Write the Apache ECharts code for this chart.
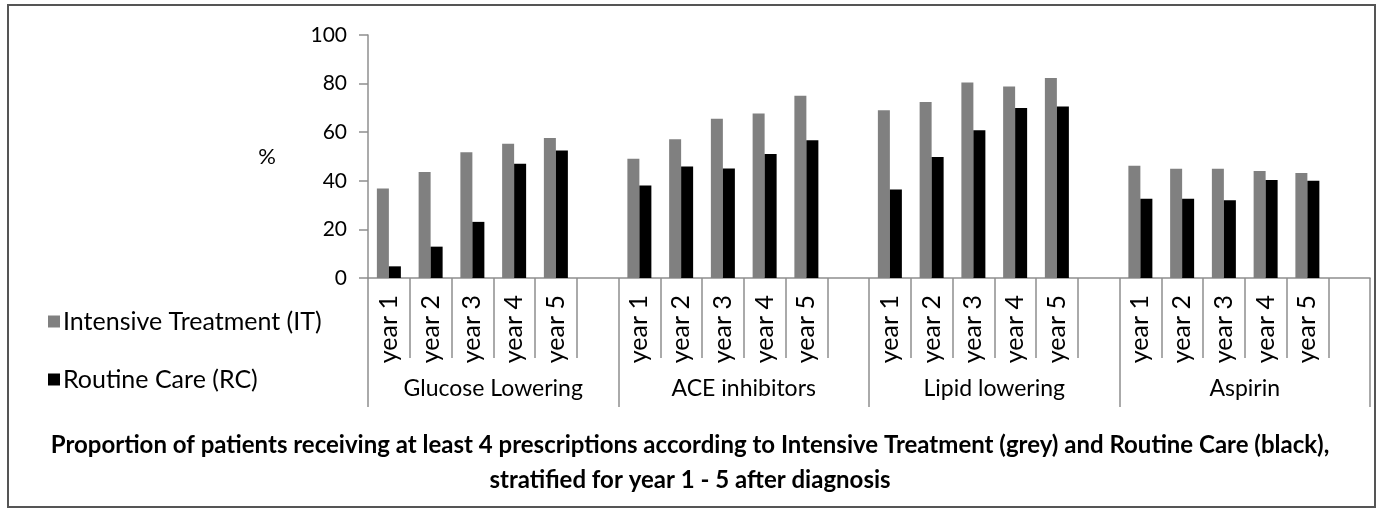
<!DOCTYPE html>
<html>
<head>
<meta charset="utf-8">
<script src="https://cdn.jsdelivr.net/npm/echarts@6/dist/echarts.min.js"></script>
<style>
html,body{margin:0;padding:0;background:#fff;}
#chart{width:1380px;height:509px;}
</style>
</head>
<body>
<div id="chart"></div>
<script>
const groups = ['Glucose Lowering', 'ACE inhibitors', 'Lipid lowering', 'Aspirin'];
const yearLabels = ['year 1', 'year 2', 'year 3', 'year 4', 'year 5', ''];
const itValues = [
  [36.8, 43.6, 51.7, 55.2, 57.6],
  [49.1, 57.1, 65.5, 67.7, 75.0],
  [69.0, 72.4, 80.5, 78.8, 82.3],
  [46.2, 45.0, 45.0, 44.0, 43.2]
];
const rcValues = [
  [4.8, 12.9, 23.1, 47.0, 52.5],
  [38.1, 45.9, 45.1, 51.0, 56.7],
  [36.4, 49.8, 60.8, 70.0, 70.6],
  [32.6, 32.6, 32.0, 40.3, 40.0]
];
const yTicks = {min: 0, max: 100, interval: 20};
const legendNames = ['Intensive Treatment (IT)', 'Routine Care (RC)'];
const titleLines = [
  'Proportion of patients receiving at least 4 prescriptions according to Intensive Treatment (grey) and Routine Care (black),',
  'stratified for year 1 - 5 after diagnosis'
];

const FONT = 'Lato';
const categories = [];
const itData = [];
const rcData = [];
groups.forEach((g, gi) => {
  yearLabels.forEach((y, yi) => {
    categories.push(g + '#' + yi);
    itData.push(yi < 5 ? itValues[gi][yi] : '-');
    rcData.push(yi < 5 ? rcValues[gi][yi] : '-');
  });
});

const gridPos = {left: 368, right: 10, top: 35, bottom: 231};
const axisGray = '#8f8f8f';

const chart = echarts.init(document.getElementById('chart'), null, {renderer: 'canvas'});
chart.setOption({
  animation: false,
  backgroundColor: '#fff',
  textStyle: {fontFamily: FONT},
  title: {
    text: titleLines.join('\n'),
    left: 'center',
    top: 423,
    textStyle: {fontFamily: FONT, fontSize: 24, fontWeight: 'bold', color: '#000', lineHeight: 35}
  },
  legend: {
    orient: 'vertical',
    left: 48,
    top: 309,
    padding: 0,
    itemWidth: 12,
    itemHeight: 12,
    itemGap: 33,
    icon: 'rect',
    data: legendNames,
    textStyle: {fontFamily: FONT, fontSize: 25, color: '#000', padding: [0, 0, 0, -2]}
  },
  grid: [
    Object.assign({}, gridPos),
    Object.assign({}, gridPos)
  ],
  xAxis: [
    {
      type: 'category',
      gridIndex: 0,
      data: categories,
      axisLine: {show: true, lineStyle: {color: axisGray, width: 1.5}},
      axisTick: {show: true, interval: 0, length: 80, lineStyle: {color: axisGray, width: 1.5}},
      axisLabel: {
        interval: 0, rotate: 90, margin: 17, fontSize: 25, color: '#000', fontFamily: FONT,
        formatter: (v, i) => yearLabels[i % 6]
      }
    },
    {
      type: 'category',
      gridIndex: 1,
      data: groups,
      axisLine: {show: false},
      axisTick: {show: true, interval: 0, length: 129, lineStyle: {color: axisGray, width: 1.5}},
      axisLabel: {interval: 0, margin: 99, fontSize: 23, color: '#000', fontFamily: FONT}
    }
  ],
  yAxis: [
    {
      type: 'value',
      gridIndex: 0,
      min: yTicks.min, max: yTicks.max, interval: yTicks.interval,
      name: '%',
      nameLocation: 'middle',
      nameRotate: 0,
      nameGap: 92,
      nameTextStyle: {fontFamily: FONT, fontSize: 22, color: '#000'},
      axisLine: {show: true, lineStyle: {color: axisGray, width: 1.5}},
      axisTick: {show: true, length: 9, lineStyle: {color: axisGray, width: 1.5}},
      splitLine: {show: false},
      axisLabel: {fontSize: 21, color: '#000', margin: 21, fontFamily: FONT}
    },
    {type: 'value', gridIndex: 1, show: false}
  ],
  series: [
    {
      name: legendNames[0], type: 'bar', xAxisIndex: 0, yAxisIndex: 0,
      data: itData, barWidth: 12, barGap: '0%',
      itemStyle: {color: '#808080'}
    },
    {
      name: legendNames[1], type: 'bar', xAxisIndex: 0, yAxisIndex: 0,
      data: rcData, barWidth: 12, barGap: '0%',
      itemStyle: {color: '#000000'}
    }
  ],
  graphic: [
    {
      type: 'rect', silent: true, z: 100,
      shape: {x: 8, y: 5, width: 1367, height: 502},
      style: {fill: 'none', stroke: '#555', lineWidth: 2}
    }
  ]
});
</script>
</body>
</html>
